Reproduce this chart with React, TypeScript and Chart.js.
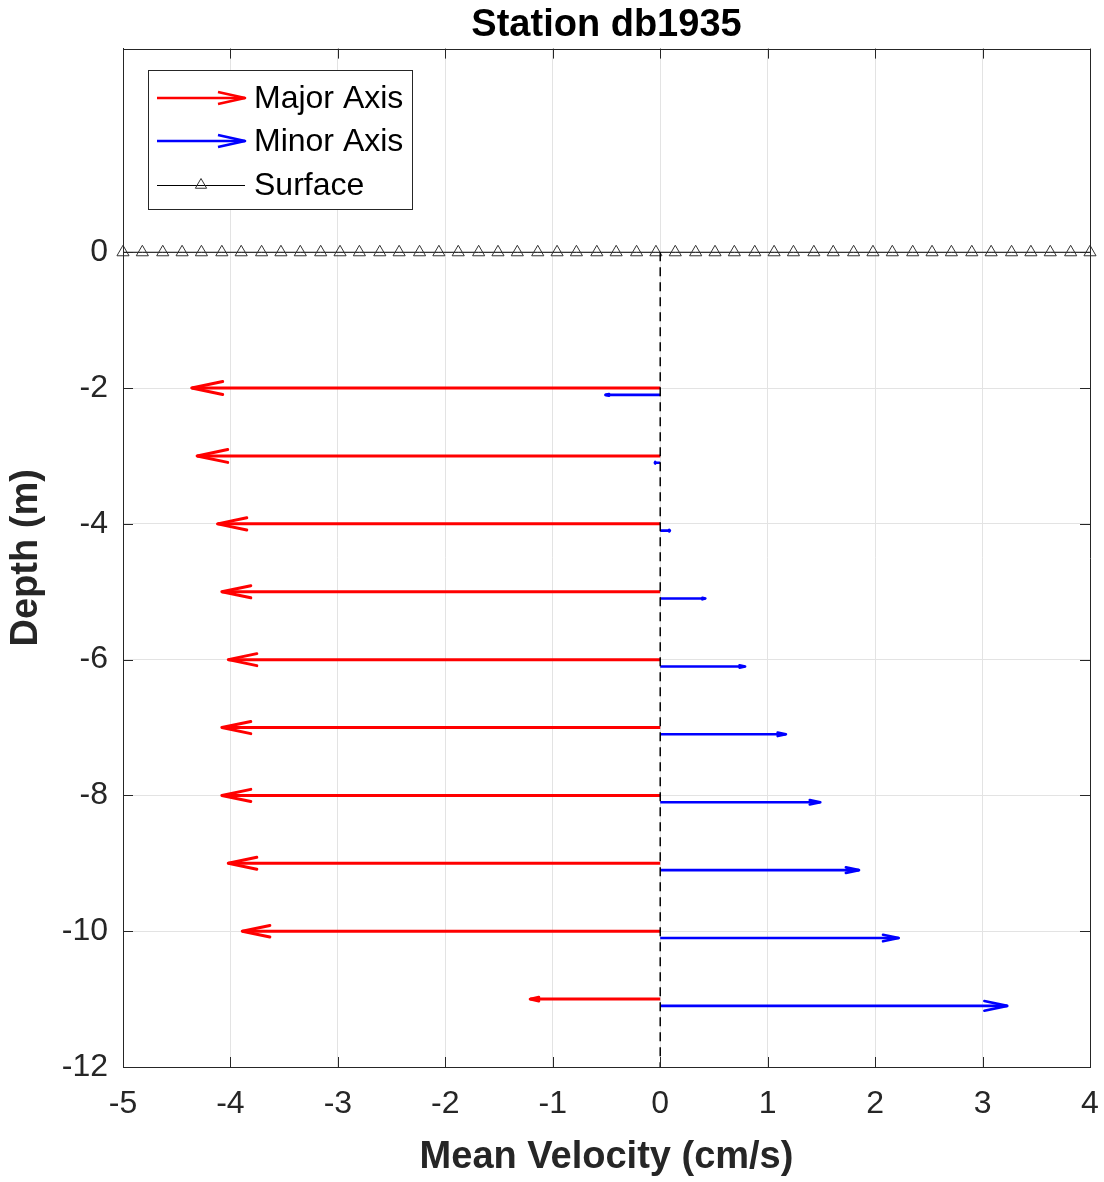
import React, { useEffect, useRef } from "react";
import { Chart, registerables } from "chart.js";

Chart.register(...registerables);

// ---------------- data ----------------
const chartTitle = "Station db1935";
const xAxisTitle = "Mean Velocity (cm/s)";
const yAxisTitle = "Depth (m)";

const depths = [-2, -3, -4, -5, -6, -7, -8, -9, -10, -11];
const majorAxis = [-4.36, -4.31, -4.12, -4.08, -4.02, -4.08, -4.08, -4.02, -3.89, -1.21];
const minorDepths = [-2.1, -3.1, -4.1, -5.1, -6.1, -7.1, -8.1, -9.1, -10.1, -11.1];
const minorAxis = [-0.51, -0.05, 0.09, 0.42, 0.79, 1.17, 1.49, 1.85, 2.22, 3.23];

const surfaceX = [
  -5, -4.82, -4.63, -4.45, -4.27, -4.08, -3.9, -3.71, -3.53, -3.35,
  -3.16, -2.98, -2.8, -2.61, -2.43, -2.24, -2.06, -1.88, -1.69, -1.51,
  -1.33, -1.14, -0.96, -0.78, -0.59, -0.41, -0.22, -0.04, 0.14, 0.33,
  0.51, 0.69, 0.88, 1.06, 1.24, 1.43, 1.61, 1.8, 1.98, 2.16,
  2.35, 2.53, 2.71, 2.9, 3.08, 3.27, 3.45, 3.63, 3.82, 4,
];
const surfaceDepth = 0;

const zeroLineX = [0, 0];
const zeroLineDepth = [0, -12];

const xTicks = [-5, -4, -3, -2, -1, 0, 1, 2, 3, 4];
const yTicks = [-12, -10, -8, -6, -4, -2, 0];
const xRange = [-5, 4];
const yRange = [-12, 3];

const legendLabels = ["Major Axis", "Minor Axis", "Surface"];

// ---------------- styles ----------------
const FONT = "'Liberation Sans', Arial, Helvetica, sans-serif";
const TEXT = "#262626";
const RED = "#ff0000";
const BLUE = "#0000ff";
const GRID = "#e3e3e3";

const arrowHeadsPlugin = {
  id: "arrowHeads",
  afterDatasetsDraw(chart: any) {
    const xs = chart.scales.x;
    const ys = chart.scales.y;
    const ctx = chart.ctx;
    const drawHead = (u: number, d: number, color: string, lw: number) => {
      const x0 = xs.getPixelForValue(0);
      const x1 = xs.getPixelForValue(u);
      const y = ys.getPixelForValue(d);
      const L = Math.abs(x1 - x0);
      const dir = x1 >= x0 ? 1 : -1;
      const h = 0.066 * L;
      const w = Math.max(0.21 * h, 0.8);
      ctx.save();
      ctx.strokeStyle = color;
      ctx.lineWidth = lw;
      ctx.lineJoin = "round";
      ctx.lineCap = "round";
      ctx.beginPath();
      ctx.moveTo(x1 - dir * h, y - w);
      ctx.lineTo(x1, y);
      ctx.lineTo(x1 - dir * h, y + w);
      ctx.stroke();
      ctx.restore();
    };
    depths.forEach((d, i) => drawHead(majorAxis[i], d, RED, 3));
    minorDepths.forEach((d, i) => drawHead(minorAxis[i], d, BLUE, 2.6));
  },
};

const framePlugin = {
  id: "frame",
  afterDraw(chart: any) {
    const { ctx, chartArea } = chart;
    const { left, right, top, bottom } = chartArea;
    const xs = chart.scales.x;
    const ys = chart.scales.y;
    const TL = 10;
    ctx.save();
    ctx.strokeStyle = TEXT;
    ctx.lineWidth = 1;
    ctx.beginPath();
    ctx.rect(Math.round(left) + 0.5, Math.round(top) + 0.5, Math.round(right - left), Math.round(bottom - top));
    ctx.stroke();
    ctx.beginPath();
    xTicks.forEach((v) => {
      const px = Math.round(xs.getPixelForValue(v)) + 0.5;
      ctx.moveTo(px, bottom);
      ctx.lineTo(px, bottom - TL);
      ctx.moveTo(px, top);
      ctx.lineTo(px, top + TL);
    });
    yTicks.forEach((v) => {
      const py = Math.round(ys.getPixelForValue(v)) + 0.5;
      ctx.moveTo(left, py);
      ctx.lineTo(left + TL, py);
      ctx.moveTo(right, py);
      ctx.lineTo(right - TL, py);
    });
    ctx.stroke();
    ctx.restore();
  },
};

const legendPlugin = {
  id: "customLegend",
  afterDraw(chart: any) {
    const ctx = chart.ctx;
    const bx = 148.5, by = 70.5, bw = 264, bh = 139;
    ctx.save();
    ctx.fillStyle = "#ffffff";
    ctx.fillRect(bx, by, bw, bh);
    ctx.strokeStyle = TEXT;
    ctx.lineWidth = 1;
    ctx.strokeRect(bx, by, bw, bh);
    const rows = [98, 141, 185];
    const colors = [RED, BLUE];
    for (let i = 0; i < 2; i++) {
      const y = rows[i];
      ctx.strokeStyle = colors[i];
      ctx.lineWidth = 2.6;
      ctx.lineJoin = "round";
      ctx.beginPath();
      ctx.moveTo(157, y);
      ctx.lineTo(245, y);
      ctx.stroke();
      ctx.beginPath();
      ctx.moveTo(218, y - 6);
      ctx.lineTo(245, y);
      ctx.lineTo(218, y + 6);
      ctx.stroke();
    }
    // surface entry
    const ys = rows[2];
    ctx.strokeStyle = "#000";
    ctx.lineWidth = 1;
    ctx.beginPath();
    ctx.moveTo(157, ys + 0.5);
    ctx.lineTo(245, ys + 0.5);
    ctx.stroke();
    const r = 6.5;
    ctx.strokeStyle = "#333";
    ctx.beginPath();
    ctx.moveTo(201, ys - r);
    ctx.lineTo(201 + r * Math.sin((2 * Math.PI) / 3), ys - r * Math.cos((2 * Math.PI) / 3));
    ctx.lineTo(201 - r * Math.sin((2 * Math.PI) / 3), ys - r * Math.cos((2 * Math.PI) / 3));
    ctx.closePath();
    ctx.stroke();

    ctx.fillStyle = "#000";
    ctx.font = `32px ${FONT}`;
    ctx.textBaseline = "middle";
    ctx.textAlign = "left";
    legendLabels.forEach((t, i) => ctx.fillText(t, 254, rows[i] + 1));
    ctx.restore();
  },
};

export default function App() {
  const canvasRef = useRef<HTMLCanvasElement | null>(null);

  useEffect(() => {
    if (!canvasRef.current) return;
    const datasets: any[] = [];
    datasets.push({
      label: "zero",
      data: zeroLineX.map((x, i) => ({ x, y: zeroLineDepth[i] })),
      showLine: true,
      borderColor: "#000",
      borderWidth: 1.5,
      borderDash: [9, 6],
      pointRadius: 0,
    });
    depths.forEach((d, i) => {
      datasets.push({
        label: "Major Axis",
        data: [
          { x: 0, y: d },
          { x: majorAxis[i], y: d },
        ],
        showLine: true,
        borderColor: RED,
        borderWidth: 3,
        pointRadius: 0,
      });
    });
    minorDepths.forEach((d, i) => {
      datasets.push({
        label: "Minor Axis",
        data: [
          { x: 0, y: d },
          { x: minorAxis[i], y: d },
        ],
        showLine: true,
        borderColor: BLUE,
        borderWidth: 2.6,
        pointRadius: 0,
      });
    });
    datasets.push({
      label: "Surface",
      data: surfaceX.map((x) => ({ x, y: surfaceDepth })),
      showLine: true,
      borderColor: "#000",
      borderWidth: 1,
      pointStyle: "triangle",
      pointRadius: 7,
      pointBorderColor: "#333",
      pointBorderWidth: 1,
      pointBackgroundColor: "rgba(255,255,255,0)",
      clip: false,
    });

    const chart = new Chart(canvasRef.current, {
      type: "scatter",
      data: { datasets },
      plugins: [arrowHeadsPlugin, framePlugin, legendPlugin],
      options: {
        animation: false,
        responsive: false,
        devicePixelRatio: 1,
        layout: { padding: { left: 0, right: 14, top: 0, bottom: 0 } },
        plugins: {
          legend: { display: false },
          tooltip: { enabled: false },
          title: {
            display: true,
            text: chartTitle,
            fullSize: false,
            color: "#000",
            font: { family: FONT, size: 38, weight: "bold" },
            padding: { top: 3, bottom: 0 },
          },
        },
        scales: {
          x: {
            type: "linear",
            min: xRange[0],
            max: xRange[1],
            afterBuildTicks: (scale: any) => {
              scale.ticks = xTicks.map((v) => ({ value: v }));
            },
            afterFit: (scale: any) => {
              scale.height = 115;
              scale.paddingLeft = 0;
              scale.paddingRight = 0;
            },
            ticks: {
              color: TEXT,
              font: { family: FONT, size: 32 },
              padding: 18,
              maxRotation: 0,
              autoSkip: false,
              callback: (v: any) => String(v),
            },
            grid: { color: GRID, lineWidth: 1, drawTicks: false },
            border: { color: TEXT, width: 1 },
            title: {
              display: true,
              text: xAxisTitle,
              color: TEXT,
              font: { family: FONT, size: 38, weight: "bold" },
              padding: { top: 0, bottom: 2 },
            },
          },
          y: {
            type: "linear",
            min: yRange[0],
            max: yRange[1],
            afterBuildTicks: (scale: any) => {
              scale.ticks = yTicks.map((v) => ({ value: v }));
            },
            afterFit: (scale: any) => {
              scale.width = 123;
              scale.paddingTop = 0;
              scale.paddingBottom = 0;
            },
            ticks: {
              color: TEXT,
              font: { family: FONT, size: 32 },
              padding: 15,
              autoSkip: false,
              callback: (v: any) => String(v),
            },
            grid: { color: GRID, lineWidth: 1, drawTicks: false },
            border: { color: TEXT, width: 1 },
            title: {
              display: true,
              text: yAxisTitle,
              color: TEXT,
              font: { family: FONT, size: 38, weight: "bold" },
              padding: { top: 4, bottom: 0 },
            },
          },
        },
      } as any,
    });
    return () => chart.destroy();
  }, []);

  return (
    <div style={{ position: "absolute", left: 0, top: 0, width: 1104, height: 1182, background: "#fff" }}>
      <canvas ref={canvasRef} width={1104} height={1182} style={{ display: "block", width: 1104, height: 1182 }} />
    </div>
  );
}
